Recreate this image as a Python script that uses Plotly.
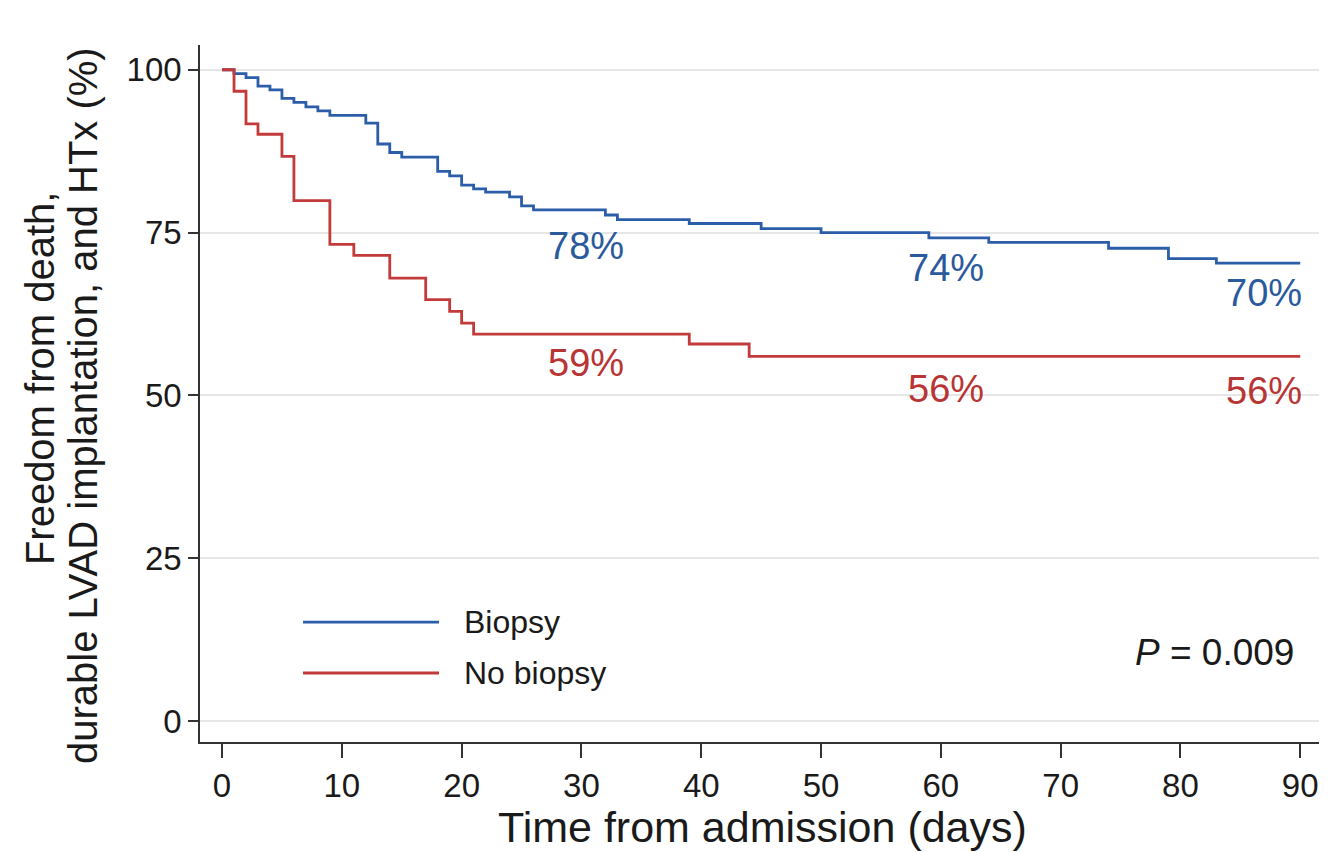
import plotly.graph_objects as go

# Kaplan-Meier step data (days, % event-free)
biopsy_days = [0, 1, 2, 3, 4, 5, 6, 7, 8, 9, 12, 13, 14, 15, 18, 19, 20, 21, 22, 24, 25, 26,
               32, 33, 39, 45, 50, 59, 64, 74, 79, 83, 90]
biopsy_surv = [100, 99.4, 98.8, 97.5, 96.9, 95.6, 95.0, 94.3, 93.7, 93.0, 91.8, 88.6, 87.3, 86.6,
               84.4, 83.7, 82.3, 81.7, 81.2, 80.5, 79.1, 78.5, 77.7, 77.0, 76.4, 75.6, 75.0,
               74.2, 73.5, 72.6, 71.0, 70.3, 70.3]

nobiopsy_days = [0, 1, 2, 3, 5, 6, 9, 11, 14, 17, 19, 20, 21, 39, 44, 90]
nobiopsy_surv = [100, 96.7, 91.7, 90.1, 86.7, 79.9, 73.2, 71.5, 68.0, 64.7, 62.9, 61.1, 59.4,
                 57.9, 56.0, 56.0]

# Landmark labels
label_days = [30, 60, 90]
biopsy_labels = ["78%", "74%", "70%"]
nobiopsy_labels = ["59%", "56%", "56%"]
biopsy_label_y = [73.0, 69.6, 65.7]
nobiopsy_label_y = [55.0, 51.0, 50.7]

x_ticks = [0, 10, 20, 30, 40, 50, 60, 70, 80, 90]
y_ticks = [0, 25, 50, 75, 100]

BLUE = "#2C5DA8"
RED = "#C23A3A"
BLUE_T = "#2B5A9C"
RED_T = "#B83535"
INK = "#1a1a1a"
FONT = "Liberation Sans, Arial, sans-serif"

fig = go.Figure()
fig.add_trace(go.Scatter(x=biopsy_days, y=biopsy_surv, mode="lines", line_shape="hv",
                         line=dict(color=BLUE, width=2.8), name="Biopsy", showlegend=False))
fig.add_trace(go.Scatter(x=nobiopsy_days, y=nobiopsy_surv, mode="lines", line_shape="hv",
                         line=dict(color=RED, width=2.8), name="No biopsy", showlegend=False))

annotations = []
for i, d in enumerate(label_days):
    last = i == len(label_days) - 1
    for txt, yy, col in ((biopsy_labels[i], biopsy_label_y[i], BLUE_T),
                         (nobiopsy_labels[i], nobiopsy_label_y[i], RED_T)):
        annotations.append(dict(
            x=d + 0.35 if last else d + 0.4, y=yy, xref="x", yref="y",
            text=txt, showarrow=False,
            xanchor="right" if last else "center", yanchor="middle",
            font=dict(family=FONT, size=38, color=col)))

# legend (custom)
for name, col, yp in (("Biopsy", BLUE, 0.172), ("No biopsy", RED, 0.099)):
    annotations.append(dict(x=0.234, y=yp, xref="paper", yref="paper", text=name,
                            showarrow=False, xanchor="left", yanchor="middle",
                            font=dict(family=FONT, size=32, color=INK)))
annotations.append(dict(x=0.979, y=0.128, xref="paper", yref="paper",
                        text="<i>P</i> = 0.009", showarrow=False, xanchor="right",
                        yanchor="middle", font=dict(family=FONT, size=37, color=INK)))

# axis titles
annotations.append(dict(x=0.502, y=-0.122, xref="paper", yref="paper",
                        text="Time from admission (days)", showarrow=False,
                        xanchor="center", yanchor="middle",
                        font=dict(family=FONT, size=43, color=INK)))
annotations.append(dict(x=-0.1429, y=0.522, xref="paper", yref="paper",
                        text="Freedom from death,", showarrow=False, textangle=-90,
                        xanchor="center", yanchor="middle",
                        font=dict(family=FONT, size=40, color=INK)))
annotations.append(dict(x=-0.1045, y=0.4835, xref="paper", yref="paper",
                        text="durable LVAD implantation, and HTx (%)", showarrow=False,
                        textangle=-90, xanchor="center", yanchor="middle",
                        font=dict(family=FONT, size=40, color=INK)))

shapes = []
for col, yp in ((BLUE, 0.172), (RED, 0.099)):
    shapes.append(dict(type="line", xref="paper", yref="paper", x0=0.092, x1=0.2134,
                       y0=yp, y1=yp, line=dict(color=col, width=2.8)))

# page body adds an 8px offset; size/margins compensate so the plot area lands at 200..1320 x 45..742
fig.update_layout(
    width=1319, height=844,
    margin=dict(l=192, r=7, t=37, b=110),
    paper_bgcolor="white", plot_bgcolor="white",
    font=dict(family=FONT, color=INK),
    annotations=annotations, shapes=shapes,
    xaxis=dict(range=[-1.84, 91.65], tickvals=x_ticks, ticks="outside", ticklen=14,
               tickwidth=1.5, tickcolor="#333", showline=True, linecolor="#333", linewidth=1.5,
               showgrid=False, zeroline=False, tickfont=dict(size=33, family=FONT),
               automargin=False),
    yaxis=dict(range=[-3.2, 103.8], tickvals=y_ticks, ticks="outside", ticklen=10,
               tickwidth=1.5, tickcolor="#333", showline=True, linecolor="#333", linewidth=1.5,
               showgrid=True, gridcolor="#e6e6e6", gridwidth=1.5, zeroline=False,
               tickfont=dict(size=33, family=FONT), automargin=False),
)

fig.write_html("out.html")
